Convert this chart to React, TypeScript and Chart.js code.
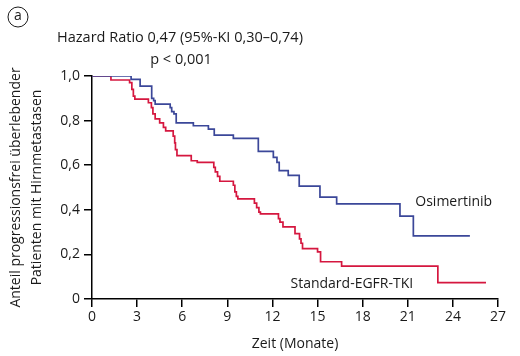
import { useEffect, useRef } from "react";
import { Chart, registerables } from "chart.js";

Chart.register(...registerables);

// ---- data ----
const osiTime = [0, 2.6, 3.2, 3.97, 4.1, 4.2, 5.2, 5.3, 5.45, 5.6, 6.74, 7.74, 8.13, 9.4, 11.06, 12.06, 12.3, 12.45, 13.05, 13.78, 15.16, 16.27, 20.48, 21.37, 25.13];
const osiSurv = [1.0, 0.985, 0.955, 0.9, 0.89, 0.874, 0.858, 0.84, 0.83, 0.79, 0.777, 0.762, 0.735, 0.72, 0.662, 0.635, 0.613, 0.576, 0.554, 0.506, 0.457, 0.427, 0.372, 0.283, 0.283];

const stdTime = [0, 1.26, 2.5, 2.65, 2.75, 2.85, 3.75, 3.95, 4.05, 4.2, 4.5, 4.75, 4.9, 5.4, 5.5, 5.55, 5.65, 6.6, 7.0, 8.1, 8.2, 8.35, 8.5, 9.4, 9.5, 9.6, 9.7, 10.8, 10.95, 11.1, 11.2, 12.4, 12.5, 12.7, 13.5, 13.8, 13.9, 14.0, 15.0, 15.2, 16.6, 23.0, 26.2];
const stdSurv = [1.0, 0.982, 0.97, 0.94, 0.91, 0.896, 0.88, 0.858, 0.83, 0.808, 0.79, 0.77, 0.754, 0.73, 0.7, 0.67, 0.643, 0.62, 0.613, 0.59, 0.57, 0.55, 0.528, 0.51, 0.48, 0.46, 0.449, 0.43, 0.41, 0.39, 0.382, 0.36, 0.345, 0.323, 0.293, 0.27, 0.25, 0.226, 0.211, 0.167, 0.147, 0.073, 0.073];

const xTickValues = [0, 3, 6, 9, 12, 15, 18, 21, 24, 27];
const yTickValues = [0, 0.2, 0.4, 0.6, 0.8, 1.0];
const yTickLabels = ["0", "0,2", "0,4", "0,6", "0,8", "1,0"];

const seriesNames = ["Osimertinib", "Standard-EGFR-TKI"];
const hrText = "Hazard Ratio 0,47 (95%-KI 0,30–0,74)";
const pText = "p < 0,001";
const panelLetter = "a";
const xTitle = "Zeit (Monate)";
const yTitle = ["Anteil progressionsfrei überlebender", "Patienten mit Hirnmetastasen"];

const FONT = '"Open Sans", sans-serif';
const BLUE = "#3b4799";
const RED = "#d5173f";
const TEXT = "#1a1a1a";

const annotationPlugin = {
  id: "kmAnnotations",
  afterDraw(chart: any) {
    const ctx = chart.ctx;
    const xs = chart.scales.x;
    const ys = chart.scales.y;
    ctx.save();
    ctx.fillStyle = TEXT;
    ctx.strokeStyle = TEXT;
    ctx.textBaseline = "middle";
    // panel letter in circle
    ctx.font = `14px ${FONT}`;
    ctx.lineWidth = 1;
    ctx.beginPath();
    ctx.arc(18, 17, 10, 0, Math.PI * 2);
    ctx.stroke();
    ctx.textAlign = "center";
    ctx.fillText(panelLetter, 18, 16);
    // hazard ratio text
    ctx.font = `14.5px ${FONT}`;
    ctx.textAlign = "center";
    ctx.fillText(hrText, 180, 38);
    ctx.fillText(pText, 181, 60);
    // series labels
    ctx.font = `14px ${FONT}`;
    ctx.textAlign = "left";
    ctx.fillText(seriesNames[0], xs.getPixelForValue(21.5), ys.getPixelForValue(0.437));
    ctx.fillText(seriesNames[1], xs.getPixelForValue(13.2), ys.getPixelForValue(0.068));
    ctx.restore();
  },
};

export default function App() {
  const ref = useRef<HTMLCanvasElement | null>(null);

  useEffect(() => {
    if (!ref.current) return;
    const chart = new Chart(ref.current, {
      type: "line",
      data: {
        datasets: [
          {
            label: seriesNames[0],
            data: osiTime.map((t, i) => ({ x: t, y: osiSurv[i] })),
            borderColor: BLUE,
            borderWidth: 1.7,
            stepped: true,
            pointRadius: 0,
            fill: false,
          },
          {
            label: seriesNames[1],
            data: stdTime.map((t, i) => ({ x: t, y: stdSurv[i] })),
            borderColor: RED,
            borderWidth: 1.7,
            stepped: true,
            pointRadius: 0,
            fill: false,
          },
        ],
      },
      options: {
        animation: false,
        responsive: false,
        devicePixelRatio: 1,
        layout: { padding: { top: 76, right: 22, bottom: 0, left: 0 } },
        plugins: {
          legend: { display: false },
          tooltip: { enabled: false },
          title: { display: false },
        },
        scales: {
          x: {
            type: "linear",
            min: 0,
            max: 27,
            afterBuildTicks: (scale: any) => {
              scale.ticks = xTickValues.map((v) => ({ value: v }));
            },
            afterFit: (scale: any) => {
              scale.height = 57;
            },
            ticks: {
              autoSkip: false,
              color: TEXT,
              font: { family: FONT, size: 14 },
              padding: 2,
              maxRotation: 0,
              callback: (v: any) => String(v),
            },
            grid: {
              drawOnChartArea: false,
              drawTicks: true,
              tickLength: 8,
              tickColor: "#000",
              lineWidth: 1.5,
            },
            border: { display: true, color: "#000", width: 1.5 },
            title: {
              display: true,
              text: xTitle,
              color: TEXT,
              font: { family: FONT, size: 14, lineHeight: 1.2 },
              padding: { top: 0, bottom: 4 },
            },
          },
          y: {
            type: "linear",
            min: 0,
            max: 1,
            afterBuildTicks: (scale: any) => {
              scale.ticks = yTickValues.map((v) => ({ value: v }));
            },
            afterFit: (scale: any) => {
              scale.width = 92;
            },
            ticks: {
              autoSkip: false,
              color: TEXT,
              font: { family: FONT, size: 14 },
              padding: 4,
              callback: (_v: any, i: number) => yTickLabels[i],
            },
            grid: {
              drawOnChartArea: false,
              drawTicks: true,
              tickLength: 8,
              tickColor: "#000",
              lineWidth: 1.5,
            },
            border: { display: true, color: "#000", width: 1.5 },
            title: {
              display: true,
              text: yTitle,
              color: TEXT,
              font: { family: FONT, size: 14, lineHeight: 1.5 },
              padding: { top: 6, bottom: 0 },
            },
          },
        },
      },
      plugins: [annotationPlugin],
    });
    return () => chart.destroy();
  }, []);

  return (
    <div style={{ position: "fixed", left: 0, top: 0, width: 520, height: 356, background: "#fff" }}>
      <canvas ref={ref} width={520} height={356} style={{ width: 520, height: 356, display: "block" }} />
    </div>
  );
}
